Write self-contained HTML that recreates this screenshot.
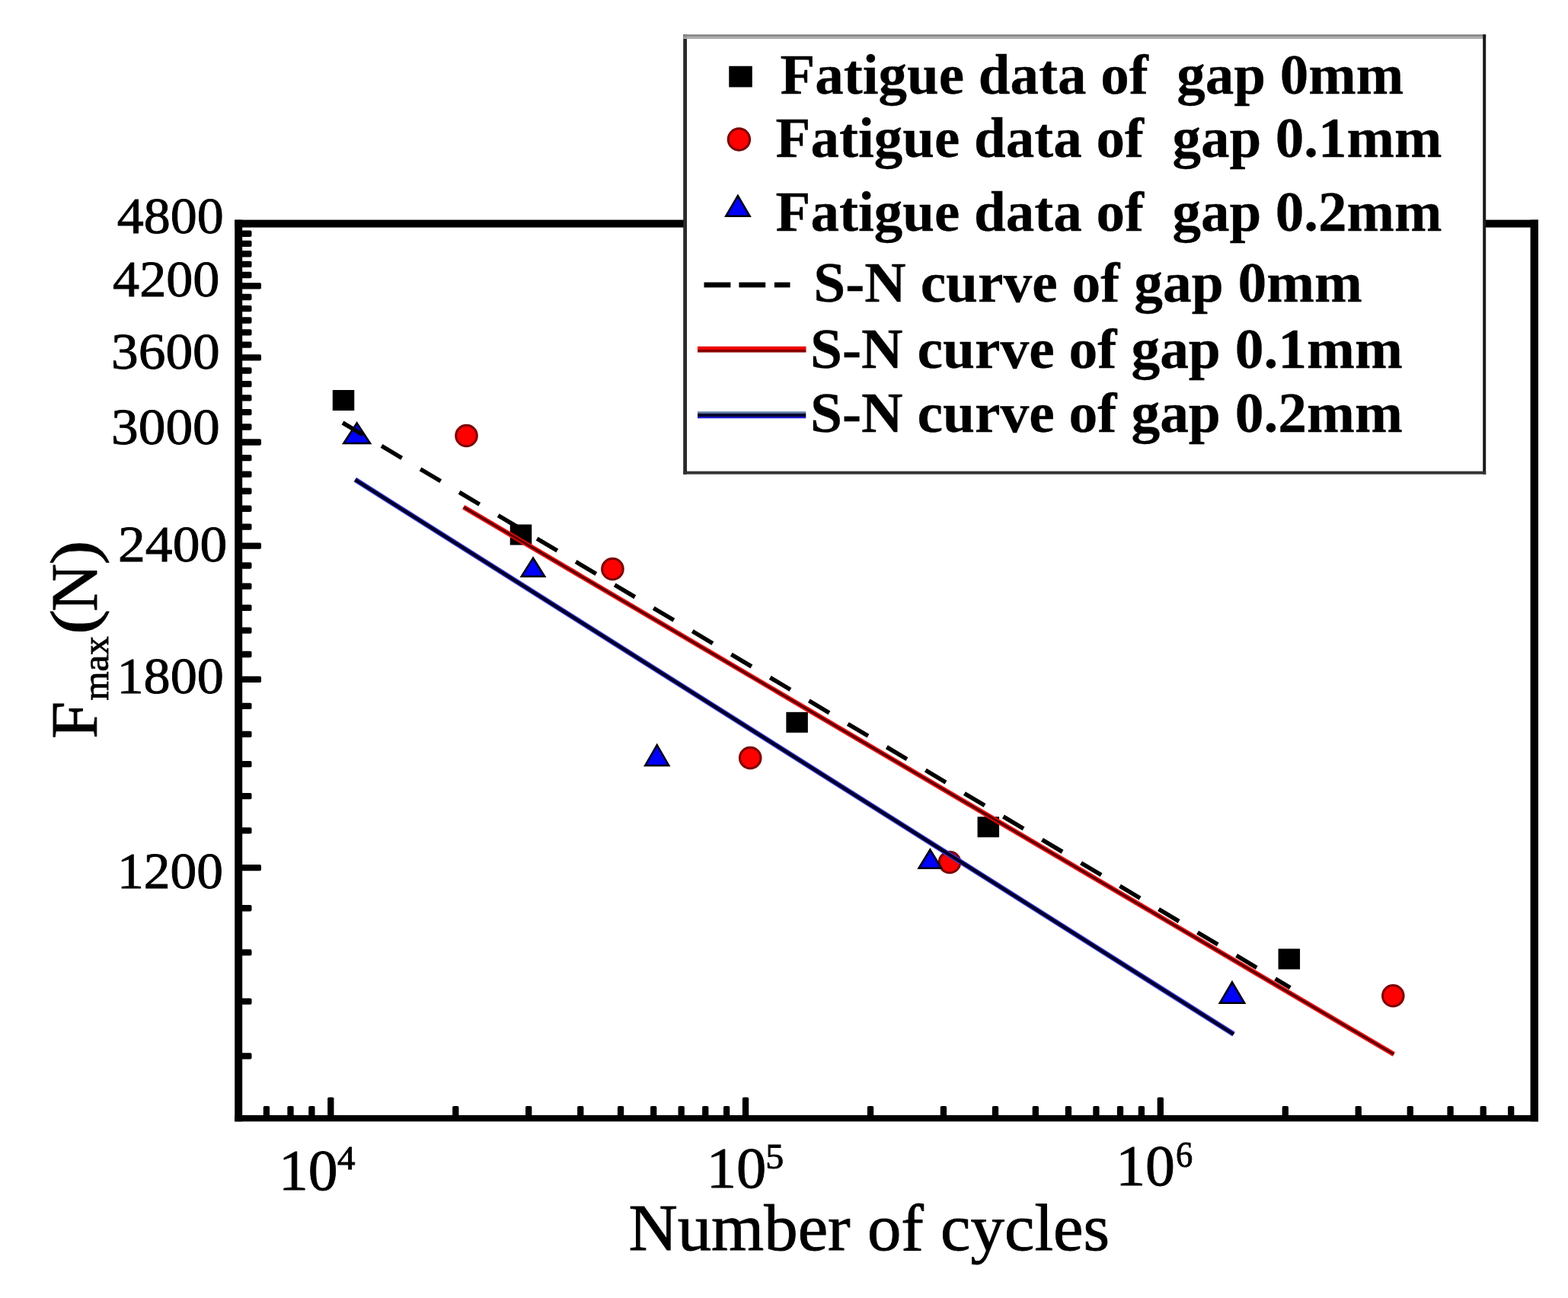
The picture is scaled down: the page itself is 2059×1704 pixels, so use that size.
<!DOCTYPE html>
<html><head><meta charset="utf-8"><title>S-N curves</title>
<style>html,body{margin:0;padding:0;background:#fff;width:2059px;height:1704px;overflow:hidden}svg{display:block}text{white-space:pre}.r{font-weight:normal;stroke:#000;stroke-width:0.9px}.b{font-weight:bold;stroke:#000;stroke-width:0.3px}</style>
</head><body>
<svg width="2059" height="1704" viewBox="0 0 2059 1704" font-family='"Liberation Serif",serif'><rect width="2059" height="1704" fill="#fff"/>
<rect x="308.2" y="288.6" width="10.0" height="1183.7" fill="#000"/>
<rect x="308.2" y="288.6" width="1711.8" height="10.0" fill="#000"/>
<rect x="2009.6" y="288.6" width="10.4" height="1183.7" fill="#000"/>
<rect x="308.2" y="1464.0" width="1711.8" height="8.3" fill="#000"/>
<rect x="314.2" y="1382.28" width="16.30" height="8.30" rx="1.8" fill="#000"/>
<rect x="314.2" y="1310.46" width="16.30" height="8.30" rx="1.8" fill="#000"/>
<rect x="314.2" y="1246.22" width="16.30" height="8.30" rx="1.8" fill="#000"/>
<rect x="314.2" y="1188.11" width="16.30" height="8.30" rx="1.8" fill="#000"/>
<rect x="314.2" y="1135.05" width="28.80" height="8.30" rx="1.8" fill="#000"/>
<rect x="314.2" y="1086.24" width="16.30" height="8.30" rx="1.8" fill="#000"/>
<rect x="314.2" y="1041.06" width="16.30" height="8.30" rx="1.8" fill="#000"/>
<rect x="314.2" y="998.99" width="16.30" height="8.30" rx="1.8" fill="#000"/>
<rect x="314.2" y="959.64" width="16.30" height="8.30" rx="1.8" fill="#000"/>
<rect x="314.2" y="922.67" width="16.30" height="8.30" rx="1.8" fill="#000"/>
<rect x="314.2" y="887.82" width="28.80" height="8.30" rx="1.8" fill="#000"/>
<rect x="314.2" y="854.85" width="16.30" height="8.30" rx="1.8" fill="#000"/>
<rect x="314.2" y="823.57" width="16.30" height="8.30" rx="1.8" fill="#000"/>
<rect x="314.2" y="793.82" width="16.30" height="8.30" rx="1.8" fill="#000"/>
<rect x="314.2" y="765.46" width="16.30" height="8.30" rx="1.8" fill="#000"/>
<rect x="314.2" y="738.35" width="16.30" height="8.30" rx="1.8" fill="#000"/>
<rect x="314.2" y="712.40" width="28.80" height="8.30" rx="1.8" fill="#000"/>
<rect x="314.2" y="687.51" width="16.30" height="8.30" rx="1.8" fill="#000"/>
<rect x="314.2" y="663.60" width="16.30" height="8.30" rx="1.8" fill="#000"/>
<rect x="314.2" y="640.59" width="16.30" height="8.30" rx="1.8" fill="#000"/>
<rect x="314.2" y="618.41" width="16.30" height="8.30" rx="1.8" fill="#000"/>
<rect x="314.2" y="597.01" width="16.30" height="8.30" rx="1.8" fill="#000"/>
<rect x="314.2" y="576.34" width="28.80" height="8.30" rx="1.8" fill="#000"/>
<rect x="314.2" y="556.35" width="16.30" height="8.30" rx="1.8" fill="#000"/>
<rect x="314.2" y="536.99" width="16.30" height="8.30" rx="1.8" fill="#000"/>
<rect x="314.2" y="518.23" width="16.30" height="8.30" rx="1.8" fill="#000"/>
<rect x="314.2" y="500.02" width="16.30" height="8.30" rx="1.8" fill="#000"/>
<rect x="314.2" y="482.35" width="16.30" height="8.30" rx="1.8" fill="#000"/>
<rect x="314.2" y="465.17" width="28.80" height="8.30" rx="1.8" fill="#000"/>
<rect x="314.2" y="448.47" width="16.30" height="8.30" rx="1.8" fill="#000"/>
<rect x="314.2" y="432.20" width="16.30" height="8.30" rx="1.8" fill="#000"/>
<rect x="314.2" y="416.37" width="16.30" height="8.30" rx="1.8" fill="#000"/>
<rect x="314.2" y="400.93" width="16.30" height="8.30" rx="1.8" fill="#000"/>
<rect x="314.2" y="385.87" width="16.30" height="8.30" rx="1.8" fill="#000"/>
<rect x="314.2" y="371.18" width="28.80" height="8.30" rx="1.8" fill="#000"/>
<rect x="314.2" y="356.83" width="16.30" height="8.30" rx="1.8" fill="#000"/>
<rect x="314.2" y="342.81" width="16.30" height="8.30" rx="1.8" fill="#000"/>
<rect x="314.2" y="329.11" width="16.30" height="8.30" rx="1.8" fill="#000"/>
<rect x="314.2" y="315.71" width="16.30" height="8.30" rx="1.8" fill="#000"/>
<rect x="314.2" y="302.60" width="16.30" height="8.30" rx="1.8" fill="#000"/>
<rect x="345.77" y="1452.00" width="8.30" height="16.00" rx="1.8" fill="#000"/>
<rect x="377.36" y="1452.00" width="8.30" height="16.00" rx="1.8" fill="#000"/>
<rect x="405.22" y="1452.00" width="8.30" height="16.00" rx="1.8" fill="#000"/>
<rect x="430.15" y="1440.50" width="8.30" height="27.50" rx="1.8" fill="#000"/>
<rect x="594.14" y="1452.00" width="8.30" height="16.00" rx="1.8" fill="#000"/>
<rect x="690.06" y="1452.00" width="8.30" height="16.00" rx="1.8" fill="#000"/>
<rect x="758.12" y="1452.00" width="8.30" height="16.00" rx="1.8" fill="#000"/>
<rect x="810.91" y="1452.00" width="8.30" height="16.00" rx="1.8" fill="#000"/>
<rect x="854.05" y="1452.00" width="8.30" height="16.00" rx="1.8" fill="#000"/>
<rect x="890.52" y="1452.00" width="8.30" height="16.00" rx="1.8" fill="#000"/>
<rect x="922.11" y="1452.00" width="8.30" height="16.00" rx="1.8" fill="#000"/>
<rect x="949.97" y="1452.00" width="8.30" height="16.00" rx="1.8" fill="#000"/>
<rect x="974.90" y="1440.50" width="8.30" height="27.50" rx="1.8" fill="#000"/>
<rect x="1138.89" y="1452.00" width="8.30" height="16.00" rx="1.8" fill="#000"/>
<rect x="1234.81" y="1452.00" width="8.30" height="16.00" rx="1.8" fill="#000"/>
<rect x="1302.87" y="1452.00" width="8.30" height="16.00" rx="1.8" fill="#000"/>
<rect x="1355.66" y="1452.00" width="8.30" height="16.00" rx="1.8" fill="#000"/>
<rect x="1398.80" y="1452.00" width="8.30" height="16.00" rx="1.8" fill="#000"/>
<rect x="1435.27" y="1452.00" width="8.30" height="16.00" rx="1.8" fill="#000"/>
<rect x="1466.86" y="1452.00" width="8.30" height="16.00" rx="1.8" fill="#000"/>
<rect x="1494.72" y="1452.00" width="8.30" height="16.00" rx="1.8" fill="#000"/>
<rect x="1519.65" y="1440.50" width="8.30" height="27.50" rx="1.8" fill="#000"/>
<rect x="1683.64" y="1452.00" width="8.30" height="16.00" rx="1.8" fill="#000"/>
<rect x="1779.56" y="1452.00" width="8.30" height="16.00" rx="1.8" fill="#000"/>
<rect x="1847.62" y="1452.00" width="8.30" height="16.00" rx="1.8" fill="#000"/>
<rect x="1900.41" y="1452.00" width="8.30" height="16.00" rx="1.8" fill="#000"/>
<rect x="1943.55" y="1452.00" width="8.30" height="16.00" rx="1.8" fill="#000"/>
<rect x="1980.02" y="1452.00" width="8.30" height="16.00" rx="1.8" fill="#000"/>
<text class="r" x="153.73" y="306.30" font-size="67.00" textLength="140.03" lengthAdjust="spacingAndGlyphs">4800</text>
<text class="r" x="148.03" y="388.50" font-size="67.00" textLength="140.45" lengthAdjust="spacingAndGlyphs">4200</text>
<text class="r" x="145.98" y="484.00" font-size="67.00" textLength="142.84" lengthAdjust="spacingAndGlyphs">3600</text>
<text class="r" x="145.98" y="582.50" font-size="67.00" textLength="142.84" lengthAdjust="spacingAndGlyphs">3000</text>
<text class="r" x="155.05" y="737.00" font-size="67.00" textLength="143.17" lengthAdjust="spacingAndGlyphs">2400</text>
<text class="r" x="153.42" y="910.30" font-size="67.00" textLength="140.55" lengthAdjust="spacingAndGlyphs">1800</text>
<text class="r" x="154.09" y="1166.30" font-size="67.00" textLength="138.95" lengthAdjust="spacingAndGlyphs">1200</text>
<text class="r" x="366.08" y="1561.60" font-size="77.00" textLength="77.57" lengthAdjust="spacingAndGlyphs">10</text>
<text class="r" x="443.08" y="1534.60" font-size="45.00" textLength="23.45" lengthAdjust="spacingAndGlyphs">4</text>
<text class="r" x="927.69" y="1559.00" font-size="77.00" textLength="78.60" lengthAdjust="spacingAndGlyphs">10</text>
<text class="r" x="1005.22" y="1533.90" font-size="47.00" textLength="23.96" lengthAdjust="spacingAndGlyphs">5</text>
<text class="r" x="1465.16" y="1556.20" font-size="77.00" textLength="77.80" lengthAdjust="spacingAndGlyphs">10</text>
<text class="r" x="1544.09" y="1531.60" font-size="48.00" textLength="22.24" lengthAdjust="spacingAndGlyphs">6</text>
<text class="r" x="825.54" y="1640.90" font-size="86.00" textLength="631.57" lengthAdjust="spacingAndGlyphs">Number of cycles</text>
<g transform="translate(127.3,967.3) rotate(-90)"><text class="r" x="-2.54" y="0.00" font-size="86.20" textLength="49.02" lengthAdjust="spacingAndGlyphs">F</text><text class="r" x="47.77" y="15.00" font-size="48.50" textLength="84.22" lengthAdjust="spacingAndGlyphs">max</text><text class="r" x="134.55" y="-1.90" font-size="83.90" textLength="32.93" lengthAdjust="spacingAndGlyphs">(</text><text class="r" x="164.60" y="0.00" font-size="86.20" textLength="62.69" lengthAdjust="spacingAndGlyphs">N</text><text class="r" x="226.04" y="-1.90" font-size="83.90" textLength="31.64" lengthAdjust="spacingAndGlyphs">)</text></g>
<rect x="436.75" y="512.00" width="28.50" height="27.00" fill="#000"/>
<rect x="669.75" y="688.50" width="28.50" height="27.00" fill="#000"/>
<rect x="1032.35" y="934.80" width="28.50" height="27.00" fill="#000"/>
<rect x="1283.55" y="1072.20" width="28.50" height="27.00" fill="#000"/>
<rect x="1678.55" y="1245.50" width="28.50" height="27.00" fill="#000"/>
<circle cx="612.50" cy="572.00" r="13.80" fill="#ff0000" stroke="#7a0000" stroke-width="3"/>
<circle cx="804.40" cy="747.00" r="13.80" fill="#ff0000" stroke="#7a0000" stroke-width="3"/>
<circle cx="985.20" cy="995.00" r="13.80" fill="#ff0000" stroke="#7a0000" stroke-width="3"/>
<circle cx="1247.00" cy="1132.00" r="13.80" fill="#ff0000" stroke="#7a0000" stroke-width="3"/>
<circle cx="1829.30" cy="1307.20" r="13.80" fill="#ff0000" stroke="#7a0000" stroke-width="3"/>
<polygon points="468.65,555.40 486.10,582.00 451.20,582.00" fill="#0000ff" stroke="#000" stroke-width="2.5"/>
<polygon points="700.00,732.50 715.20,756.70 684.80,756.70" fill="#0000ff" stroke="#000" stroke-width="2.5"/>
<polygon points="862.75,978.00 878.30,1005.00 847.20,1005.00" fill="#0000ff" stroke="#000" stroke-width="2.5"/>
<polygon points="1221.35,1115.50 1236.20,1139.70 1206.50,1139.70" fill="#0000ff" stroke="#000" stroke-width="2.5"/>
<polygon points="1618.00,1289.30 1634.20,1316.70 1601.80,1316.70" fill="#0000ff" stroke="#000" stroke-width="2.5"/>
<line x1="466.40" y1="629.70" x2="1620.00" y2="1357.70" stroke="#3030f0" stroke-width="6.80"/>
<line x1="466.40" y1="629.70" x2="1620.00" y2="1357.70" stroke="#000020" stroke-width="4.20"/>
<line x1="608.80" y1="665.80" x2="1830.30" y2="1384.00" stroke="#ff0000" stroke-width="6.40"/>
<line x1="608.80" y1="665.80" x2="1830.30" y2="1384.00" stroke="#500000" stroke-width="3.00"/>
<line x1="450.00" y1="555.00" x2="1694.30" y2="1296.60" stroke="#000" stroke-width="5.60" stroke-dasharray="31 28.4"/>
<rect x="899.5" y="48" width="1049.5" height="572.5" fill="#fff"/>
<rect x="897.2" y="45.2" width="4.8" height="577.5" fill="#2a2a2a"/>
<rect x="897.2" y="45.2" width="1054" height="3" fill="#888"/>
<rect x="897.2" y="48.2" width="1054" height="2.8" fill="#aaa"/>
<rect x="1947.2" y="45.2" width="4" height="577.5" fill="#1a1a1a"/>
<rect x="897.2" y="618.6" width="1054" height="4" fill="#333"/>
<rect x="957.25" y="86.75" width="30.50" height="27.70" fill="#000"/>
<circle cx="970.4" cy="183" r="14.2" fill="#ff0000" stroke="#7a0000" stroke-width="3"/>
<polygon points="968.90,256.90 984.60,283.70 953.20,283.70" fill="#0000ff" stroke="#000" stroke-width="2.5"/>
<rect x="924.5" y="370.6" width="34.9" height="6.8" fill="#000"/>
<rect x="970.4" y="370.6" width="34.8" height="6.8" fill="#000"/>
<rect x="1016.9" y="370.6" width="20.6" height="6.8" fill="#000"/>
<rect x="916" y="454.8" width="142.5" height="4.2" fill="#f00000"/>
<rect x="916" y="459" width="142.5" height="3.6" fill="#8a0000"/>
<rect x="916" y="540.2" width="142.3" height="2.4" fill="#6080b0"/>
<rect x="916" y="542.6" width="142.3" height="4.4" fill="#000030"/>
<rect x="916" y="547" width="142.3" height="2.2" fill="#2020d0"/>
<text class="b" x="1024.42" y="123.20" font-size="73.50" textLength="818.76" lengthAdjust="spacingAndGlyphs">Fatigue data of  gap 0mm</text>
<text class="b" x="1018.62" y="206.30" font-size="73.50" textLength="874.96" lengthAdjust="spacingAndGlyphs">Fatigue data of  gap 0.1mm</text>
<text class="b" x="1018.62" y="302.50" font-size="73.50" textLength="874.96" lengthAdjust="spacingAndGlyphs">Fatigue data of  gap 0.2mm</text>
<text class="b" x="1068.29" y="396.00" font-size="73.50" textLength="720.50" lengthAdjust="spacingAndGlyphs">S-N curve of gap 0mm</text>
<text class="b" x="1063.98" y="482.60" font-size="73.50" textLength="777.91" lengthAdjust="spacingAndGlyphs">S-N curve of gap 0.1mm</text>
<text class="b" x="1063.98" y="567.30" font-size="73.50" textLength="777.91" lengthAdjust="spacingAndGlyphs">S-N curve of gap 0.2mm</text>
</svg>
</body></html>
